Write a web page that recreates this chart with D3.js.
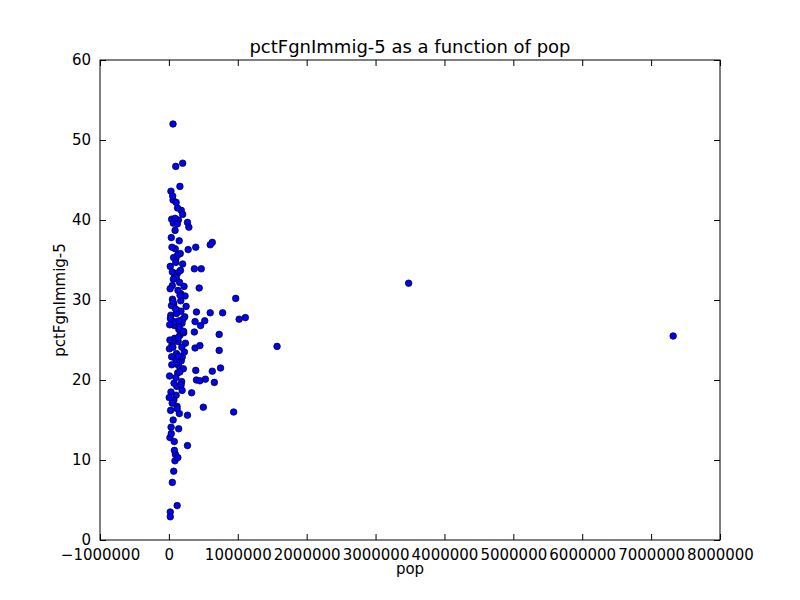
<!DOCTYPE html>
<html><head><meta charset="utf-8">
<script src="https://cdn.jsdelivr.net/npm/d3@7"></script>
<style>body{margin:0;background:#fff}text{font-family:"DejaVu Sans",sans-serif}</style>
</head><body>
<script>
// data
var popVals=[60000,100000,120000,20000,20000,50000,160000,180000,200000,200000,270000,290000,280000,270000,270000,330000,390000,370000,400000,380000,370000,380000,390000,400000,440000,460000,450000,450000,470000,500000,520000,530000,600000,630000,600000,630000,660000,730000,730000,750000,780000,940000,970000,1020000,1110000,1570000,3480000,7320000,
 10000,20000,30000,40000,50000,60000,70000,80000,90000,100000,110000,120000,130000,140000,150000,160000,170000,180000,190000,200000,210000,220000,230000,240000,250000,
 15000,35000,55000,75000,95000,115000,135000,155000,175000,195000,215000,235000,
 25000,45000,65000,85000,105000,125000,145000,165000,185000,205000,225000,
 12000,32000,52000,72000,92000,112000,132000,152000,172000,192000,212000,
 8000,28000,48000,68000,88000,108000,128000,148000,168000,188000,
 18000,38000,58000,78000,98000,118000,138000,158000,178000,
 22000,42000,62000,82000,102000,122000,142000,162000,
 30000,50000,70000,90000,110000,130000,150000,
 40000,60000,80000,100000,120000,140000,
 15000,45000,75000,105000,135000,
 5000,35000,65000,95000,125000];
var pctVals=[52,46.7,4.3,3.5,2.9,7.2,44.2,41.2,40.7,47.1,11.8,39.1,36.3,39.7,15.6,18.4,36.6,33.9,28.5,27.3,26,24,21.2,20,31.5,26.8,24.3,19.9,33.9,16.6,27.4,20.1,28.4,37.2,36.9,21.1,19.7,25.7,23.7,21.5,28.4,16,30.2,27.6,27.8,24.2,32.1,25.5,
 20.5,34.2,43.6,40.1,31.8,42.5,29.5,26.8,38.7,35.1,23.3,28.7,33.4,21.8,37.4,25.6,30.8,22.4,27.1,34.5,21.4,31.7,27.9,24.6,29.2,
 12.8,37.8,43,27.3,10.7,19.2,24.8,32.2,28.6,22.9,25.9,30.5,
 16.2,24.4,39.6,33,18.1,41.5,26.3,35.8,19.8,27.6,23.5,
 26.9,14.1,30.1,17.5,36.4,22.1,31.2,15.8,29.9,18.7,26.1,
 23.9,28.1,17.1,35.3,9.9,32.8,20.9,27.4,33.7,24.1,
 31.4,29.3,24.1,12.3,22.6,16.7,40,21,19.4,
 27.7,21.9,15,25.2,20.3,39.5,13.9,30.6,
 18.5,33.5,8.6,40.2,28.3,10.3,26.6,
 22.9,29.8,11.2,34.7,16.4,23,
 25,36.6,19.6,42.2,25.3,
 17.8,13.3,32.6,28.9,35.6];
var xTicks=[-1000000,0,1000000,2000000,3000000,4000000,5000000,6000000,7000000,8000000];
var yTicks=[0,10,20,30,40,50,60];

var W=800,H=600,L=100,R=720,T=60,B=540;
var svg=d3.select('body').append('svg').attr('width',W).attr('height',H);
var x=d3.scaleLinear().domain([-1000000,8000000]).range([L,R]);
var y=d3.scaleLinear().domain([0,60]).range([B,T]);
var pts=popVals.map(function(d,i){return [d,pctVals[i]];});
svg.selectAll('circle.pt').data(pts).enter().append('circle').attr('class','pt')
  .attr('cx',function(d){return x(d[0]);}).attr('cy',function(d){return y(d[1]);})
  .attr('r',3.3).attr('fill','#0000ff').attr('stroke','#000').attr('stroke-width',0.7);
svg.append('rect').attr('x',L).attr('y',T).attr('width',R-L).attr('height',B-T)
  .attr('fill','none').attr('stroke','#000');
var gx=svg.append('g').attr('transform','translate(0,'+B+')')
  .call(d3.axisBottom(x).tickValues(xTicks).tickSize(-6).tickPadding(9).tickFormat(function(d){return d<0?'\u2212'+(-d):d;}));
var gx2=svg.append('g').attr('transform','translate(0,'+T+')')
  .call(d3.axisTop(x).tickValues(xTicks).tickSize(-6).tickFormat(''));
var gy=svg.append('g').attr('transform','translate('+L+',0)')
  .call(d3.axisLeft(y).tickValues(yTicks).tickSize(-6).tickPadding(9));
var gy2=svg.append('g').attr('transform','translate('+R+',0)')
  .call(d3.axisRight(y).tickValues(yTicks).tickSize(-6).tickFormat(''));
[gx,gx2,gy,gy2].forEach(function(g){g.select('.domain').remove();g.selectAll('text').attr('font-size',15).attr('fill','#000').attr('font-family','DejaVu Sans');});
svg.append('text').attr('x',(L+R)/2).attr('y',53).attr('text-anchor','middle').attr('font-size',18).text('pctFgnImmig-5 as a function of pop');
svg.append('text').attr('x',(L+R)/2).attr('y',574).attr('text-anchor','middle').attr('font-size',15).text('pop');
svg.append('text').attr('transform','translate(65,300) rotate(-90)').attr('text-anchor','middle').attr('font-size',15).text('pctFgnImmig-5');
</script>
</body></html>
